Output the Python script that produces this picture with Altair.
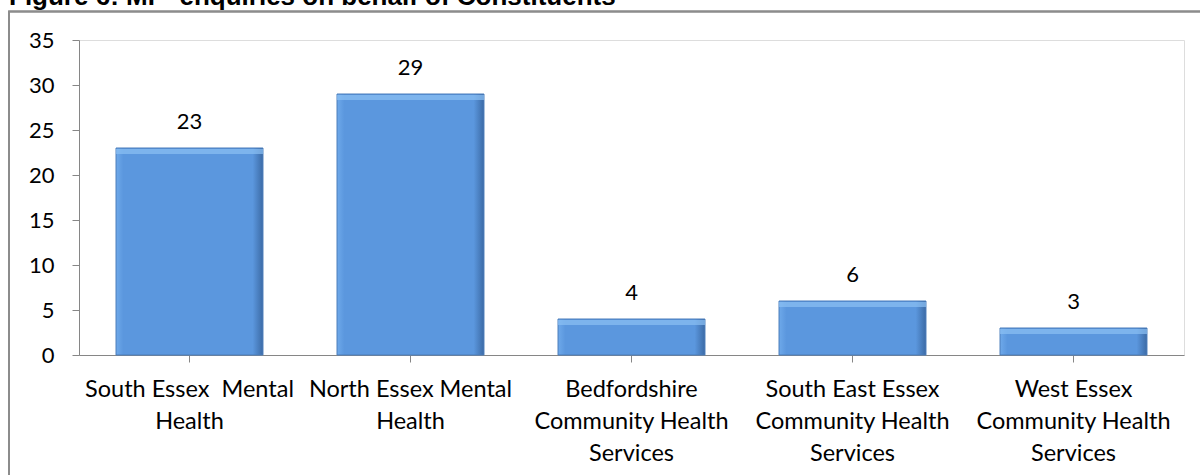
import altair as alt
import pandas as pd

categories = [
    "South Essex\u00a0 Mental\nHealth",
    "North Essex Mental\nHealth",
    "Bedfordshire\nCommunity Health\nServices",
    "South East Essex\nCommunity Health\nServices",
    "West Essex\nCommunity Health\nServices",
]
values = [23, 29, 4, 6, 3]
title_text = "Figure 6: MP\u00a0 enquiries on behalf of Constituents"
y_ticks = [0, 5, 10, 15, 20, 25, 30, 35]

df = pd.DataFrame({"cat": categories, "val": values})

FONT = "Lato"
x = alt.X("cat:N", sort=categories, title=None,
          scale=alt.Scale(paddingInner=0.335, paddingOuter=0.1675),
          axis=alt.Axis(labelAngle=0, labelExpr="split(datum.label, '\\n')",
                        labelFont=FONT, labelFontSize=23.5, labelColor="#000",
                        labelLineHeight=32, labelPadding=15, tickSize=7,
                        tickColor="#868686", domainColor="#868686",
                        labelLimit=300))
y = alt.Y("val:Q", title=None,
          scale=alt.Scale(domain=[0, 35], nice=False),
          axis=alt.Axis(values=y_ticks, grid=False, labelFont=FONT,
                        labelFontSize=22, labelColor="#000", labelPadding=18,
                        tickSize=7, tickColor="#868686", domainColor="#868686"))

grad = alt.Gradient(
    gradient="linear", x1=0, x2=1, y1=0, y2=0,
    stops=[
        alt.GradientStop(offset=0, color="#6ea9ea"),
        alt.GradientStop(offset=0.05, color="#5b97de"),
        alt.GradientStop(offset=0.93, color="#5b97de"),
        alt.GradientStop(offset=1, color="#3c6ba6"),
    ],
)

bars = alt.Chart(df).mark_bar(fill=grad, stroke="#4a7cba", strokeWidth=1).encode(x=x, y=y)
hilite = alt.Chart(df).mark_tick(color="#8cc0f4", thickness=5, yOffset=3.5, bandSize=136).encode(
    x=alt.X("cat:N", sort=categories), y="val:Q")
labels = alt.Chart(df).mark_text(dy=-19, fontSize=22, font=FONT, color="#000",
                                 baseline="alphabetic").encode(
    x=alt.X("cat:N", sort=categories), y="val:Q", text="val:Q")

frame = alt.Chart(df).mark_rect(fill=None, stroke="#8c8c8c", strokeWidth=1.5).encode(
    x=alt.value(-70), x2=alt.value(1140), y=alt.value(-28.5), y2=alt.value(460))
title = alt.Chart(pd.DataFrame({"t": [title_text]})).mark_text(
    font="Liberation Sans", fontWeight="bold", fontSize=26, align="left",
    baseline="alphabetic", color="#000").encode(
    x=alt.value(-70), y=alt.value(-35), text="t:N")

chart = alt.layer(frame, bars, hilite, labels, title).properties(
    width=1105, height=315,
    autosize=alt.AutoSizeParams(type="none"),
    padding={"left": 79, "top": 40, "right": 16, "bottom": 120},
).configure_view(stroke=None).configure(background="white")

chart.save("out.html", embed_options={"renderer": "svg", "actions": False})
